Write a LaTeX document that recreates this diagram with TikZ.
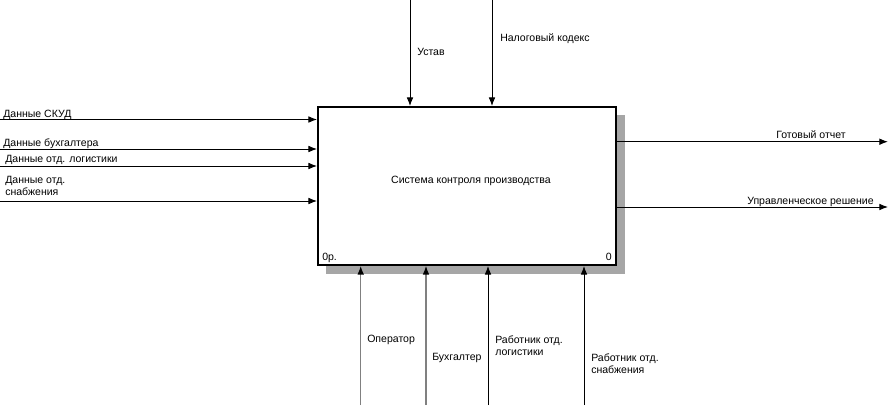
\documentclass[tikz,border=0pt]{standalone}
\usepackage{fontspec}
\setmainfont{Liberation Sans}
\usetikzlibrary{arrows.meta,fit}
\begin{document}
\begin{tikzpicture}[x=0.75pt,y=-0.75pt,
  lbl/.style={anchor=base west, inner sep=0pt, font=\fontsize{7.9pt}{9pt}\selectfont, align=left},
  flow/.style={draw=black, line width=0.75pt, -{Latex[length=6.5pt,width=5pt]}},
  grayflow/.style={draw=black!50, line width=1pt, -{Latex[length=6.5pt,width=5pt,color=black]}},
  shadowfill/.style={fill=black!35, draw=none},
  boxstyle/.style={draw=black, line width=1.3pt, fill=white, inner sep=0pt}
]
\useasboundingbox (0,0) rectangle (888,405);
\fill[white] (0,0) rectangle (888,405);
% shadow
\fill[shadowfill] (616,115) rectangle (625,274);
\fill[shadowfill] (326,265) rectangle (625,274);
% box
\coordinate (bnw) at (318,107);
\coordinate (bse) at (616,265);
\node[boxstyle, fit=(bnw)(bse)] (box) {};
\node[lbl, anchor=base] (title) at (471,183.5) {Система контроля производства};
\node[lbl] (num) at (322,260) {0р.};
\node[lbl, anchor=base east] (nodeno) at (612,260) {0};
% inputs
\coordinate (i1) at (0,119.5);
\coordinate (i2) at (0,149);
\coordinate (i3) at (0,166);
\coordinate (i4) at (0,201);
\draw[flow] (i1) -- (i1 -| box.west);
\draw[flow] (i2) -- (i2 -| box.west);
\draw[flow] (i3) -- (i3 -| box.west);
\draw[flow] (i4) -- (i4 -| box.west);
\node[lbl] (li1) at (3,117.5) {Данные СКУД};
\node[lbl] (li2) at (3,146.5) {Данные бухгалтера};
\node[lbl] (li3) at (5,162.5) {Данные отд. логистики};
\node[lbl] (li4) at (5,195) {Данные отд.\\снабжения};
% controls
\coordinate (c1) at (410,0);
\coordinate (c2) at (492,0);
\draw[flow] (c1) -- (c1 |- box.north);
\draw[flow] (c2) -- (c2 |- box.north);
\node[lbl] (lc1) at (417,55) {Устав};
\node[lbl] (lc2) at (500,41) {Налоговый кодекс};
% outputs
\coordinate (o1) at (888,141.7);
\coordinate (o2) at (888,207);
\draw[flow] (o1 -| box.east) -- (o1);
\draw[flow] (o2 -| box.east) -- (o2);
\node[lbl] (lo1) at (776,138) {Готовый отчет};
\node[lbl] (lo2) at (747,204) {Управленческое решение};
% mechanisms
\coordinate (m1) at (360.7,405);
\coordinate (m2) at (426,405);
\coordinate (m3) at (488,405);
\coordinate (m4) at (584,405);
\draw[grayflow] (m1) -- (m1 |- box.south);
\draw[grayflow] (m2) -- (m2 |- box.south);
\draw[flow] (m3) -- (m3 |- box.south);
\draw[flow] (m4) -- (m4 |- box.south);
\node[lbl] (lm1) at (367,342) {Оператор};
\node[lbl] (lm2) at (432,360) {Бухгалтер};
\node[lbl] (lm3) at (495,355.5) {Работник отд.\\логистики};
\node[lbl] (lm4) at (591,373) {Работник отд.\\снабжения};
\end{tikzpicture}
\end{document}
